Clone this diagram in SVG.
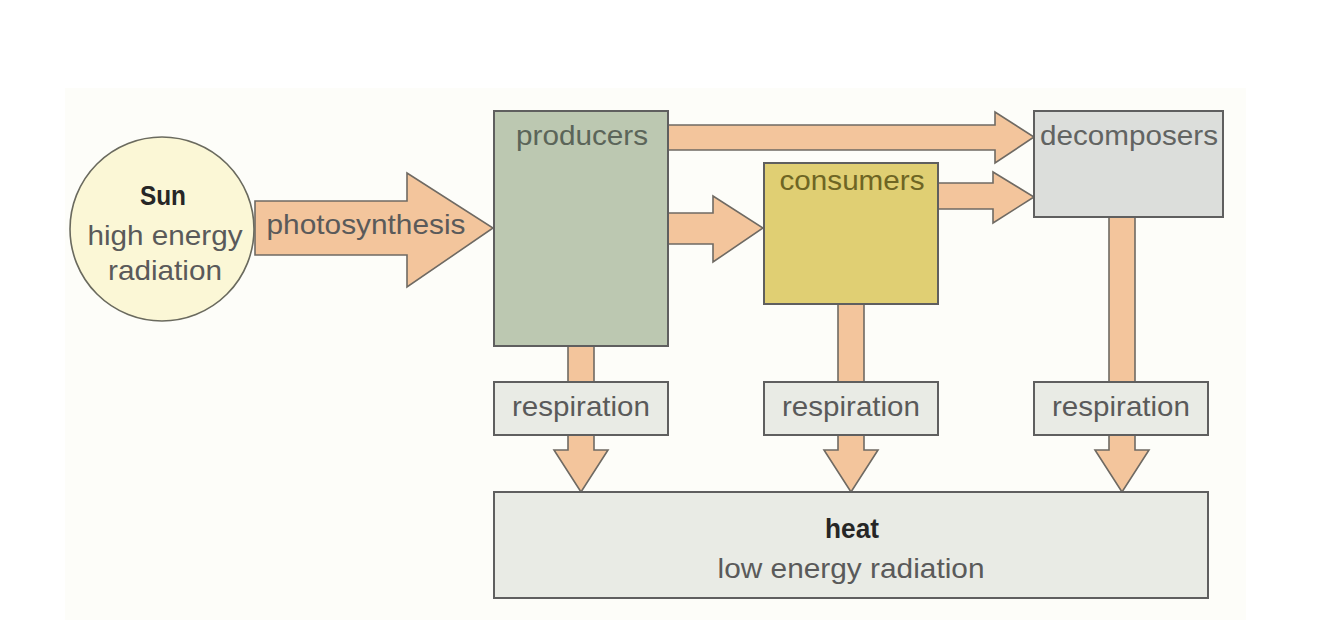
<svg xmlns="http://www.w3.org/2000/svg" width="1334" height="620" viewBox="0 0 1334 620">
<style>
text{font-family:"Liberation Sans",Arial,sans-serif;}
.arrow{fill:#f3c59c;stroke:#6f6a63;stroke-width:1.6;stroke-linejoin:miter;}
.box{stroke:#5f5f5f;stroke-width:2;}
.lbl{font-size:28px;fill:#5a5a5a;}
.bold{font-weight:bold;fill:#262626;}
.resp{fill:#e9ebe5;}
</style>
<rect x="0" y="0" width="1334" height="620" fill="#ffffff"/>
<rect x="65" y="88" width="1181" height="532" fill="#fdfdf9"/>

<g id="connectors">
  <!-- photosynthesis -->
  <polygon class="arrow" points="255,201 407,201 407,173 493,228 407,287 407,255 255,255"/>
  <!-- producers -> decomposers -->
  <polygon class="arrow" points="668,125 995,125 995,112 1034,137 995,163 995,150 668,150"/>
  <!-- producers -> consumers -->
  <polygon class="arrow" points="668,213 713,213 713,196 763,228 713,262 713,244 668,244"/>
  <!-- consumers -> decomposers -->
  <polygon class="arrow" points="938,183 993,183 993,172 1034,197 993,223 993,209 938,209"/>
  <!-- down shafts into respiration -->
  <polygon class="arrow" points="568,346 594,346 594,382 568,382"/>
  <polygon class="arrow" points="838,304 864,304 864,382 838,382"/>
  <polygon class="arrow" points="1109,217 1135,217 1135,382 1109,382"/>
  <!-- respiration -> heat -->
  <polygon class="arrow" points="568,435 594,435 594,450 608,450 581,492 554,450 568,450"/>
  <polygon class="arrow" points="838,435 864,435 864,450 878,450 851,492 824,450 838,450"/>
  <polygon class="arrow" points="1109,435 1135,435 1135,450 1149,450 1122,492 1095,450 1109,450"/>
</g>

<g id="sun">
  <circle cx="162" cy="229" r="92" fill="#fbf7d6" stroke="#6a6a5e" stroke-width="1.6"/>
  <text class="lbl bold" x="163" y="205" text-anchor="middle" textLength="46" lengthAdjust="spacingAndGlyphs">Sun</text>
  <text class="lbl" x="165" y="245" text-anchor="middle" textLength="155" lengthAdjust="spacingAndGlyphs">high energy</text>
  <text class="lbl" x="165" y="280" text-anchor="middle" textLength="114" lengthAdjust="spacingAndGlyphs">radiation</text>
</g>
<g id="photosynthesis-label">
  <text class="lbl" x="366" y="234" text-anchor="middle" textLength="199" lengthAdjust="spacingAndGlyphs">photosynthesis</text>
</g>

<g id="producers">
  <rect class="box" x="494" y="111" width="174" height="235" fill="#bcc8b1"/>
  <text class="lbl" x="582" y="145" text-anchor="middle" style="fill:#5b6559" textLength="132" lengthAdjust="spacingAndGlyphs">producers</text>
</g>

<g id="consumers">
  <rect class="box" x="764" y="163" width="174" height="141" fill="#e0cf73"/>
  <text class="lbl" x="852" y="190" text-anchor="middle" style="fill:#6e6524" textLength="145" lengthAdjust="spacingAndGlyphs">consumers</text>
</g>

<g id="decomposers">
  <rect class="box" x="1034" y="111" width="189" height="106" fill="#dcdedb"/>
  <text class="lbl" x="1129" y="145" text-anchor="middle" style="fill:#626462" textLength="178" lengthAdjust="spacingAndGlyphs">decomposers</text>
</g>

<g id="respiration-1">
  <rect class="box resp" x="494" y="382" width="174" height="53"/>
  <text class="lbl" x="581" y="416" text-anchor="middle" textLength="138" lengthAdjust="spacingAndGlyphs">respiration</text>
</g>
<g id="respiration-2">
  <rect class="box resp" x="764" y="382" width="174" height="53"/>
  <text class="lbl" x="851" y="416" text-anchor="middle" textLength="138" lengthAdjust="spacingAndGlyphs">respiration</text>
</g>
<g id="respiration-3">
  <rect class="box resp" x="1034" y="382" width="174" height="53"/>
  <text class="lbl" x="1121" y="416" text-anchor="middle" textLength="138" lengthAdjust="spacingAndGlyphs">respiration</text>
</g>

<g id="heat">
  <rect class="box resp" x="494" y="492" width="714" height="106"/>
  <text class="lbl bold" x="852" y="538" text-anchor="middle" textLength="54" lengthAdjust="spacingAndGlyphs">heat</text>
  <text class="lbl" x="851" y="578" text-anchor="middle" textLength="267" lengthAdjust="spacingAndGlyphs">low energy radiation</text>
</g>
</svg>
